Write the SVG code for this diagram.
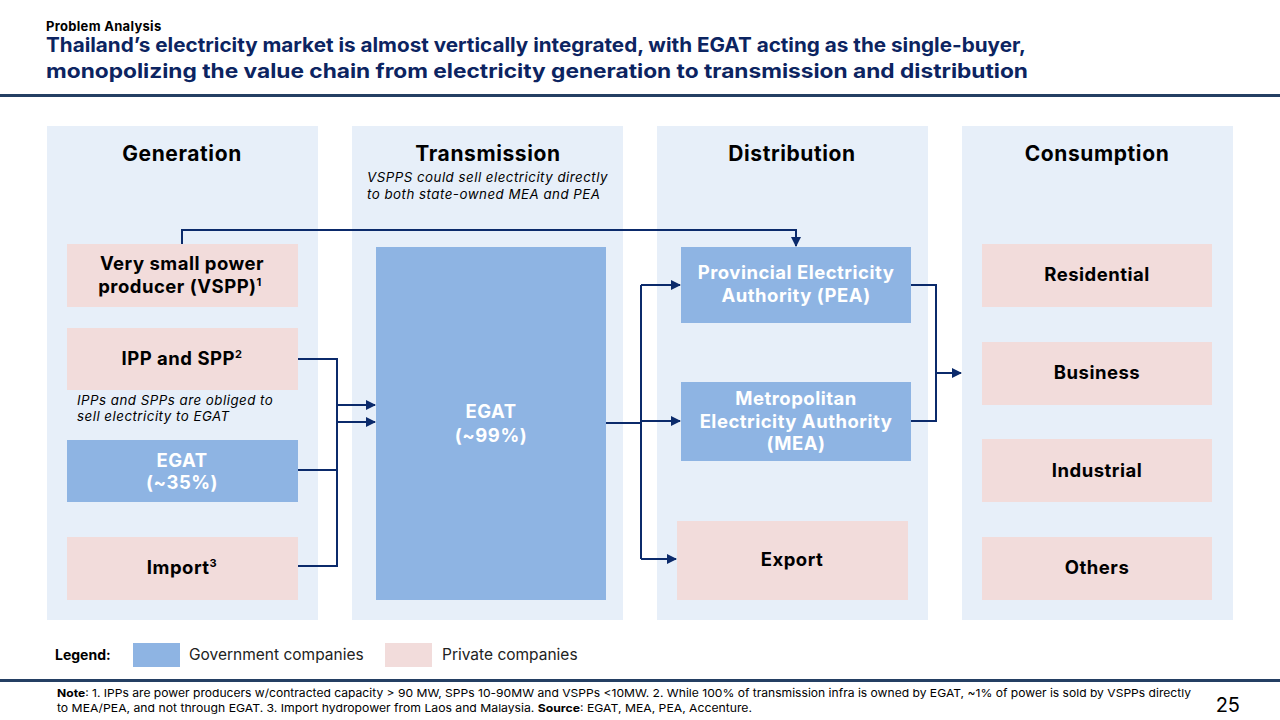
<svg xmlns="http://www.w3.org/2000/svg" width="1280" height="720" viewBox="0 0 1280 720">
<defs>
<style>
text{font-family:Inter,"Open Sans","Liberation Sans",sans-serif}
.col{fill:#e7eff9}
.pub{fill:#8eb4e3}
.pri{fill:#f2dcdb}
.hd{font-size:21px;font-weight:700;fill:#000;text-anchor:middle;letter-spacing:0.6px}
.bk{font-size:18.5px;font-weight:700;fill:#000;text-anchor:middle;letter-spacing:0.5px}
.wt{font-size:18.5px;font-weight:700;fill:#fff;text-anchor:middle;letter-spacing:0.5px}
.it{font-size:13.3px;font-style:italic;fill:#000;letter-spacing:0.5px}
.ln{fill:none;stroke:#0b2a6b;stroke-width:2}
.title{font-size:20px;font-weight:700;fill:#0c2461}
.rule{fill:#243f63}
.note{font-size:11px;fill:#000}
.lg{font-size:15.5px;fill:#222}
</style>
<marker id="ar" viewBox="0 0 10 10" refX="9" refY="5" markerWidth="5" markerHeight="5" orient="auto" markerUnits="strokeWidth">
<path d="M0,0 L10,5 L0,10 z" fill="#0b2a6b"/>
</marker>
</defs>
<rect width="1280" height="720" fill="#fff"/>
<g id="header">
<text x="46" y="31" style="font-size:13px;font-weight:700;fill:#000;letter-spacing:0.3px">Problem Analysis</text>
<text class="title" x="46" y="52" textLength="980" lengthAdjust="spacingAndGlyphs">Thailand’s electricity market is almost vertically integrated, with EGAT acting as the single-buyer,</text>
<text class="title" x="46" y="78" textLength="982" lengthAdjust="spacingAndGlyphs">monopolizing the value chain from electricity generation to transmission and distribution</text>
<rect class="rule" x="0" y="94" width="1280" height="3"/>
</g>
<g id="columns">
<rect class="col" x="47" y="126" width="271" height="494"/>
<rect class="col" x="352" y="126" width="271" height="494"/>
<rect class="col" x="657" y="126" width="271" height="494"/>
<rect class="col" x="962" y="126" width="271" height="494"/>
<text class="hd" x="182" y="161">Generation</text>
<text class="hd" x="488" y="161">Transmission</text>
<text class="hd" x="792" y="161">Distribution</text>
<text class="hd" x="1097" y="161">Consumption</text>
<text class="it" x="367" y="182">VSPPS could sell electricity directly</text>
<text class="it" x="367" y="199">to both state-owned MEA and PEA</text>
<text class="it" x="77" y="405">IPPs and SPPs are obliged to</text>
<text class="it" x="77" y="421">sell electricity to EGAT</text>
</g>
<g id="vspp"><rect class="pri" x="67" y="244" width="231" height="63"/>
<text class="bk" x="182" y="270">Very small power</text>
<text class="bk" x="180" y="293">producer (VSPP)<tspan dy="-7" style="font-size:11px">1</tspan></text></g>
<g id="ipp"><rect class="pri" x="67" y="328" width="231" height="62"/>
<text class="bk" x="182" y="365">IPP and SPP<tspan dy="-7" style="font-size:11px">2</tspan></text></g>
<g id="egat-gen"><rect class="pub" x="67" y="440" width="231" height="62"/>
<text class="wt" x="182" y="467">EGAT</text>
<text class="wt" x="182" y="489">(~35%)</text></g>
<g id="import"><rect class="pri" x="67" y="537" width="231" height="63"/>
<text class="bk" x="182" y="574">Import<tspan dy="-7" style="font-size:11px">3</tspan></text></g>
<g id="egat-tx"><rect class="pub" x="376" y="247" width="230" height="353"/>
<text class="wt" x="491" y="418">EGAT</text>
<text class="wt" x="491" y="442">(~99%)</text></g>
<g id="pea"><rect class="pub" x="681" y="247" width="230" height="76"/>
<text class="wt" x="796" y="279">Provincial Electricity</text>
<text class="wt" x="796" y="302">Authority (PEA)</text></g>
<g id="mea"><rect class="pub" x="681" y="382" width="230" height="79"/>
<text class="wt" x="796" y="405">Metropolitan</text>
<text class="wt" x="796" y="428">Electricity Authority</text>
<text class="wt" x="796" y="450">(MEA)</text></g>
<g id="export"><rect class="pri" x="677" y="521" width="231" height="79"/>
<text class="bk" x="792" y="566">Export</text></g>
<g id="residential"><rect class="pri" x="982" y="244" width="230" height="63"/>
<text class="bk" x="1097" y="281">Residential</text></g>
<g id="business"><rect class="pri" x="982" y="342" width="230" height="63"/>
<text class="bk" x="1097" y="379">Business</text></g>
<g id="industrial"><rect class="pri" x="982" y="439" width="230" height="63"/>
<text class="bk" x="1097" y="477">Industrial</text></g>
<g id="others"><rect class="pri" x="982" y="537" width="230" height="63"/>
<text class="bk" x="1097" y="574">Others</text></g>
<g id="connectors">
<path class="ln" d="M182,244 V230 H796 V246" marker-end="url(#ar)"/>
<path class="ln" d="M298,359 H337 M298,470 H337 M298,566 H337 M337,358 V567"/>
<path class="ln" d="M337,405 H375" marker-end="url(#ar)"/>
<path class="ln" d="M337,422 H375" marker-end="url(#ar)"/>
<path class="ln" d="M606,423 H641 M641,285 V559"/>
<path class="ln" d="M641,285 H680" marker-end="url(#ar)"/>
<path class="ln" d="M641,421 H680" marker-end="url(#ar)"/>
<path class="ln" d="M641,559 H676" marker-end="url(#ar)"/>
<path class="ln" d="M911,285 H936 M911,421 H936 M936,284 V422"/>
<path class="ln" d="M936,373 H961" marker-end="url(#ar)"/>
</g>
<g id="legend">
<text x="55" y="660" style="font-size:14px;font-weight:700;fill:#000">Legend:</text>
<rect class="pub" x="133" y="643" width="47" height="24"/>
<text class="lg" x="189" y="660">Government companies</text>
<rect class="pri" x="385" y="643" width="47" height="24"/>
<text class="lg" x="442" y="660">Private companies</text>
</g>
<g id="footer">
<rect class="rule" x="0" y="679" width="1280" height="3"/>
<text class="note" x="57" y="697" textLength="1134" lengthAdjust="spacingAndGlyphs"><tspan font-weight="700">Note</tspan>: 1. IPPs are power producers w/contracted capacity &gt; 90 MW, SPPs 10-90MW and VSPPs &lt;10MW. 2. While 100% of transmission infra is owned by EGAT, ~1% of power is sold by VSPPs directly</text>
<text class="note" x="57" y="712" textLength="695" lengthAdjust="spacingAndGlyphs">to MEA/PEA, and not through EGAT. 3. Import hydropower from Laos and Malaysia. <tspan font-weight="700">Source</tspan>: EGAT, MEA, PEA, Accenture.</text>
<text x="1240" y="712" style="font-size:20px;fill:#000;text-anchor:end">25</text>
</g>
</svg>
